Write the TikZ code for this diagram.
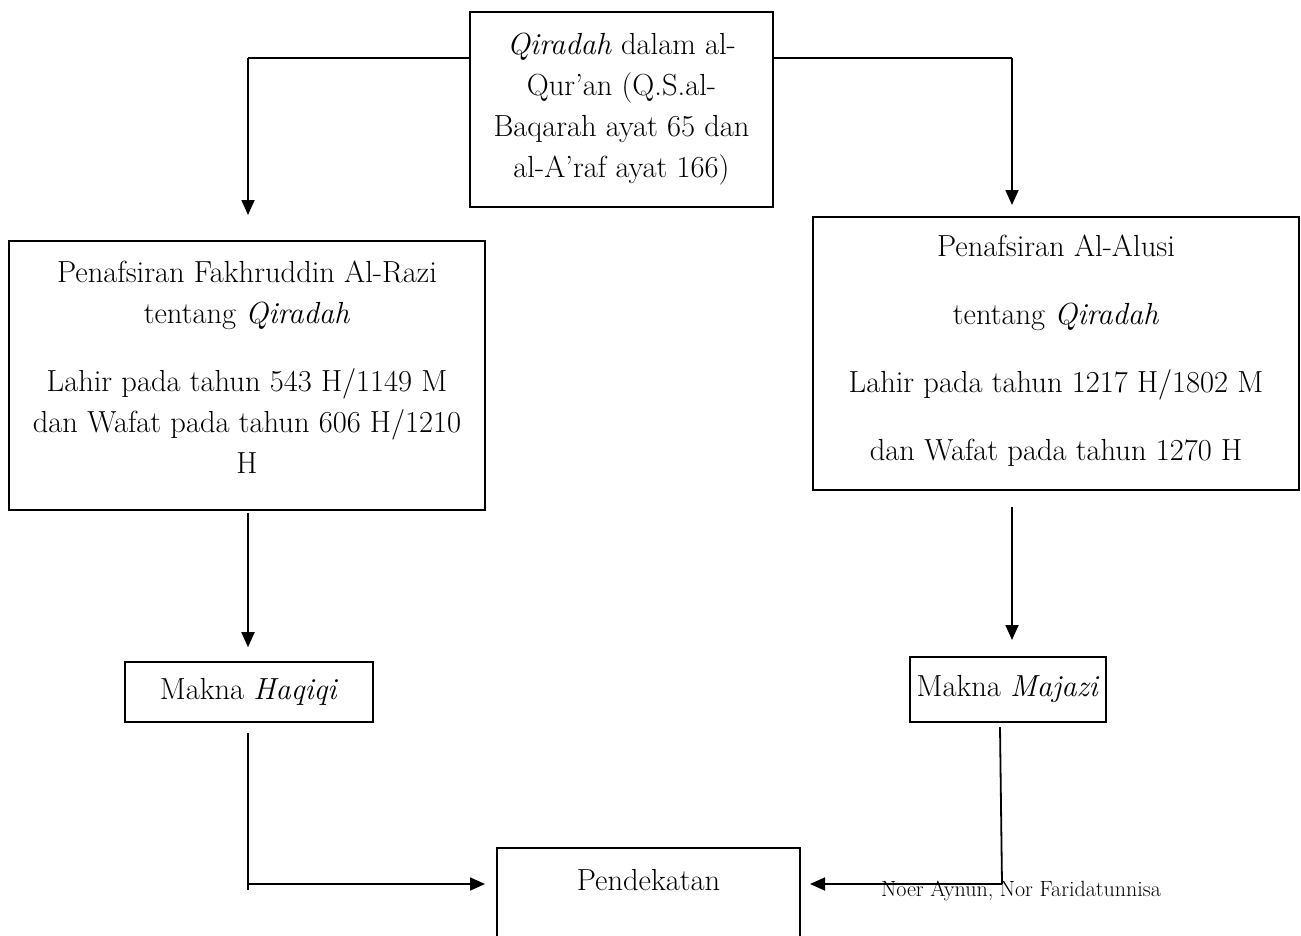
\documentclass[tikz,border=0pt]{standalone}
\usetikzlibrary{arrows.meta,calc}
\begin{document}
\begin{tikzpicture}[x=1pt,y=-1pt,
  box/.style={draw,line width=1.6pt,inner sep=0pt,align=center,font=\fontsize{30.5}{41}\selectfont},
  txt/.style={inner sep=0pt,align=center,font=\fontsize{30.5}{41}\selectfont},
  arr/.style={line width=1.8pt,-{Triangle[width=13pt,length=15pt]}},
  ln/.style={line width=1.8pt}]
\useasboundingbox (0,0) rectangle (1301,935);
\begin{scope}
\clip (0,0) rectangle (1301,935);
\node[box,minimum width=303pt,minimum height=195pt] (top) at (621.5,109.5)
  {\textit{Qiradah} dalam al-\\Qur'an (Q.S.al-\\Baqarah ayat 65 dan\\al-A'raf ayat 166)};
\node[box,minimum width=476pt,minimum height=269pt] (lb) at (247,375.5) {};
\node[txt] (lbt) at (247,367.5)
  {Penafsiran Fakhruddin Al-Razi\\tentang \textit{Qiradah}\\[27pt]Lahir pada tahun 543 H/1149 M\\dan Wafat pada tahun 606 H/1210\\H};
\node[box,minimum width=486pt,minimum height=273pt] (rb) at (1056,353.5) {};
\node[txt] (rbt) at (1056,350.5)
  {Penafsiran Al-Alusi\\[27pt]tentang \textit{Qiradah}\\[27pt]Lahir pada tahun 1217 H/1802 M\\[27pt]dan Wafat pada tahun 1270 H};
\node[box,minimum width=248pt,minimum height=60pt] (haq) at (249,692) {Makna \textit{Haqiqi}};
\node[box,minimum width=196pt,minimum height=65pt] (maj) at (1008,689.5) {Makna \textit{Majazi}};
\node[draw,line width=1.6pt,minimum width=303pt,minimum height=110pt,inner sep=0pt] (pend) at (648.5,903) {};
\node[txt] (pendt) at (648.5,880) {Pendekatan};
\end{scope}
\coordinate (tl) at (248,58);
\coordinate (tlend) at (248,215);
\coordinate (tr) at (1012,58);
\coordinate (trend) at (1012,205);
\draw[ln] (top.west |- tl) -- (tl);
\draw[arr] (tl) -- (tlend);
\draw[ln] (top.east |- tr) -- (tr);
\draw[arr] (tr) -- (trend);
\draw[arr] ([yshift=-2pt]lb.south -| tl) -- ([yshift=14pt]haq.north -| tl);
\coordinate (r2s) at (1012,507);
\coordinate (r2e) at (1012,640);
\draw[arr] (r2s) -- (r2e);
\coordinate (hs) at (248,733);
\coordinate (hc) at (248,884);
\coordinate (he) at (248,890);
\coordinate (ha) at (485,884);
\draw[ln] (hs) -- (he);
\draw[arr] (hc) -- (ha);
\coordinate (ms) at (1000,727);
\coordinate (mc) at (1002,884);
\coordinate (ma) at (810,884);
\draw[ln] (ms) -- (mc);
\draw[arr] (mc) -- (ma);
\node[inner sep=0pt,font=\fontsize{22}{24}\selectfont] (auth) at (1021,891) {Noer Aynun, Nor Faridatunnisa};
\end{tikzpicture}
\end{document}
